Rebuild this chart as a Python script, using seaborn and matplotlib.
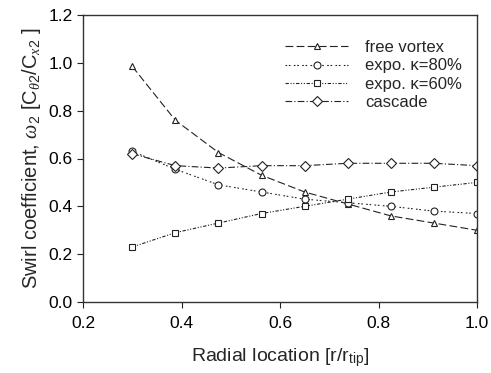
import numpy as np
import pandas as pd
import matplotlib
matplotlib.use("Agg")
import matplotlib.pyplot as plt
import seaborn as sns

radial = [0.3, 0.3875, 0.475, 0.5625, 0.65, 0.7375, 0.825, 0.9125, 1.0]
free_vortex = [0.985, 0.76, 0.625, 0.53, 0.46, 0.41, 0.36, 0.33, 0.30]
expo_80 = [0.63, 0.555, 0.49, 0.46, 0.43, 0.415, 0.40, 0.38, 0.37]
expo_60 = [0.23, 0.29, 0.33, 0.37, 0.40, 0.43, 0.46, 0.48, 0.50]
cascade = [0.62, 0.57, 0.56, 0.57, 0.57, 0.58, 0.58, 0.58, 0.57]
series_names = ["free vortex", "expo. \u03ba=80%", "expo. \u03ba=60%", "cascade"]
x_ticks = [0.2, 0.4, 0.6, 0.8, 1.0]
y_ticks = [0.0, 0.2, 0.4, 0.6, 0.8, 1.0, 1.2]

sns.set_theme(style="ticks")
plt.rcParams['font.family'] = ['Liberation Sans', 'DejaVu Sans']
plt.rcParams['mathtext.fontset'] = 'custom'
plt.rcParams['mathtext.rm'] = 'Liberation Sans'
plt.rcParams['mathtext.it'] = 'Liberation Serif:italic'

frames = []
for name, vals in zip(series_names, [free_vortex, expo_80, expo_60, cascade]):
    frames.append(pd.DataFrame({"r": radial, "w": vals, "series": name}))
df = pd.concat(frames, ignore_index=True)

fig = plt.figure(figsize=(4.91, 3.73), dpi=100)
ax = fig.add_axes([83/491, 1-302/373, (477-83)/491, (302-15)/373])

markers = {series_names[0]: "^", series_names[1]: "o", series_names[2]: "s", series_names[3]: "D"}
dashes = {series_names[0]: (7, 3),
          series_names[1]: (1.5, 1.5, 1.5, 3),
          series_names[2]: (3, 1.5, 1, 1.5, 1, 1.5),
          series_names[3]: (6, 2, 1, 2)}
palette = {n: "#222222" for n in series_names}

sns.lineplot(data=df, x="r", y="w", hue="series", style="series",
             markers=markers, dashes=dashes, palette=palette,
             hue_order=series_names, style_order=series_names,
             markerfacecolor="white", markeredgecolor="#222222",
             markersize=5, markeredgewidth=0.8, linewidth=0.8, ax=ax)

ax.set_xlim(0.2, 1.0)
ax.set_ylim(0.0, 1.2)
ax.set_xticks(x_ticks)
ax.set_yticks(y_ticks)
ax.set_xticklabels([f"{t:.1f}" for t in x_ticks])
ax.set_yticklabels([f"{t:.1f}" for t in y_ticks])
ax.tick_params(axis='both', labelsize=12.5, direction='out', length=4, width=0.8, colors='#222222', labelcolor='black')
ax.tick_params(axis='x', pad=6)
for s in ax.spines.values():
    s.set_color('#333333')
    s.set_linewidth(1.0)
ax.set_xlabel("Radial location [r/r$_{\\mathrm{tip}}$]", fontsize=14, labelpad=11)
ax.set_ylabel("Swirl coefficient, $\\it{\\omega}_2$ [C$_{\\theta2}$/C$_{x2}$ ]", fontsize=14.5, labelpad=4)

leg = ax.legend(loc="upper right", frameon=False, fontsize=12, handlelength=3.8,
                bbox_to_anchor=(1.0, 0.965), labelspacing=0.2, handletextpad=1.0)

fig.savefig("out.png", dpi=100)
